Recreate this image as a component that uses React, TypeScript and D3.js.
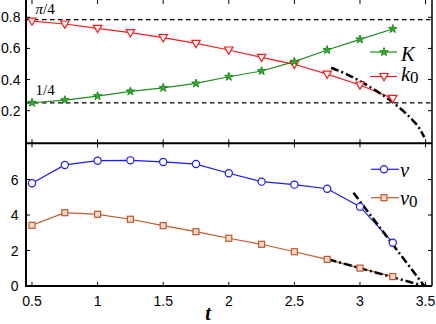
import React from "react";
import * as d3 from "d3";

const tVals = [0.5, 0.75, 1, 1.25, 1.5, 1.75, 2, 2.25, 2.5, 2.75, 3, 3.25];
const KVals = [0.251, 0.268, 0.294, 0.324, 0.347, 0.375, 0.418, 0.455, 0.515, 0.59, 0.658, 0.725];
const k0Vals = [0.776, 0.757, 0.729, 0.701, 0.669, 0.632, 0.59, 0.543, 0.498, 0.435, 0.365, 0.279];
const vVals = [5.79, 6.82, 7.06, 7.08, 6.99, 6.87, 6.35, 5.88, 5.71, 5.48, 4.47, 2.44];
const v0Vals = [3.42, 4.13, 4.04, 3.76, 3.4, 3.06, 2.69, 2.35, 1.93, 1.5, 1.01, 0.53];

const kAsymT = [2.78, 2.9, 3.0, 3.1, 3.2, 3.3, 3.4, 3.45, 3.49];
const kAsymV = [0.476, 0.434, 0.39, 0.34, 0.285, 0.22, 0.14, 0.09, 0.03];
const vAsymT = [2.95, 3.49];
const vAsymV = [5.26, 0.0];
const v0AsymT = [2.76, 3.49];
const v0AsymV = [1.5, 0.0];

const xTicks = [0.5, 1, 1.5, 2, 2.5, 3, 3.5];
const xTickLabels = ["0.5", "1", "1.5", "2", "2.5", "3", "3.5"];
const topTicks = [0.2, 0.4, 0.6, 0.8];
const topTickLabels = ["0.2", "0.4", "0.6", "0.8"];
const botTicks = [0, 2, 4, 6];
const botTickLabels = ["0", "2", "4", "6"];
const refLines = [Math.PI / 4, 0.25];

const GREEN = "#1e8c1e";
const RED = "#ff1a1a";
const BLUE = "#1a1aff";
const BROWN = "#c0582a";

export default function App() {
  const L = 26, R = 432;
  const topY0 = 0, topY1 = 143.3, botY1 = 286;
  const x = d3.scaleLinear().domain([0.4543, 3.549]).range([L, R]);
  const yT = d3.scaleLinear().domain([0, 0.8]).range([141.8, 17.3]);
  const yB = d3.scaleLinear().domain([0, 8]).range([botY1, 144]);

  const lineT = d3.line<number>().x((_, i) => x(tVals[i])).y((d) => yT(d));
  const lineB = d3.line<number>().x((_, i) => x(tVals[i])).y((d) => yB(d));
  const asymTop = d3
    .line<number>()
    .x((_, i) => x(kAsymT[i]))
    .y((d) => yT(d))
    .curve(d3.curveMonotoneX);
  const mkLine = (ts: number[], vs: number[]) =>
    d3.line<number>().x((_, i) => x(ts[i])).y((d) => yB(d))(vs) || "";

  const star = d3.symbol().type(d3.symbolStar).size(22)() || "";
  const tri = "M-4.2,-3 L4.2,-3 L0,4.3 Z";
  const dashDot = "8,3,2,3";
  const tickLen = 4;
  const sans = "'Liberation Sans', Arial, sans-serif";
  const serif = "'Liberation Serif', 'Times New Roman', serif";

  const Star = ({ cx, cy }: { cx: number; cy: number }) => (
    <path d={star} transform={`translate(${cx},${cy})`} fill="#2fae2f" stroke={GREEN} strokeWidth={1} />
  );
  const Tri = ({ cx, cy }: { cx: number; cy: number }) => (
    <path d={tri} transform={`translate(${cx},${cy})`} fill="white" stroke={RED} strokeWidth={1.2} />
  );
  const Circ = ({ cx, cy }: { cx: number; cy: number }) => (
    <circle cx={cx} cy={cy} r={3.6} fill="white" stroke={BLUE} strokeWidth={1.2} />
  );
  const Sq = ({ cx, cy }: { cx: number; cy: number }) => (
    <rect x={cx - 3} y={cy - 3} width={6} height={6} fill="#f3d9c9" stroke={BROWN} strokeWidth={1.2} />
  );

  return (
    <svg
      width={436}
      height={324}
      style={{ position: "absolute", left: 0, top: 0, background: "white" }}
    >
      {/* top panel reference lines */}
      {refLines.map((r, i) => (
        <line key={i} x1={L} x2={R} y1={yT(r)} y2={yT(r)} stroke="black" strokeWidth={1.2} strokeDasharray="4.5,3.5" />
      ))}
      <text x={35.5} y={13.5} fontFamily={serif} fontSize={15}>
        <tspan fontStyle="italic">π</tspan>/4
      </text>
      <text x={35.5} y={95} fontFamily={serif} fontSize={15}>1/4</text>

      {/* top series */}
      <path d={lineT(k0Vals) || ""} fill="none" stroke={RED} strokeWidth={1.2} />
      <path d={lineT(KVals) || ""} fill="none" stroke={GREEN} strokeWidth={1.2} />
      <path d={asymTop(kAsymV) || ""} fill="none" stroke="black" strokeWidth={2.5} strokeDasharray={dashDot} />
      {k0Vals.map((v, i) => <Tri key={i} cx={x(tVals[i])} cy={yT(v)} />)}
      {KVals.map((v, i) => <Star key={i} cx={x(tVals[i])} cy={yT(v)} />)}

      {/* bottom series */}
      <path d={lineB(vVals) || ""} fill="none" stroke={BLUE} strokeWidth={1.2} />
      <path d={lineB(v0Vals) || ""} fill="none" stroke={BROWN} strokeWidth={1.2} />
      <path d={mkLine(vAsymT, vAsymV)} fill="none" stroke="black" strokeWidth={2.5} strokeDasharray={dashDot} />
      <path d={mkLine(v0AsymT, v0AsymV)} fill="none" stroke="black" strokeWidth={2.5} strokeDasharray={dashDot} />
      {vVals.map((v, i) => <Circ key={i} cx={x(tVals[i])} cy={yB(v)} />)}
      {v0Vals.map((v, i) => <Sq key={i} cx={x(tVals[i])} cy={yB(v)} />)}

      {/* legends */}
      <line x1={370} x2={397} y1={52} y2={52} stroke={GREEN} strokeWidth={1.2} />
      <Star cx={384} cy={52} />
      <text x={401} y={61} fontFamily={serif} fontStyle="italic" fontSize={20.5}>K</text>
      <line x1={370} x2={397} y1={76.5} y2={76.5} stroke={RED} strokeWidth={1.2} />
      <Tri cx={384} cy={76.5} />
      <text x={401} y={81} fontFamily={serif} fontStyle="italic" fontSize={20.5}>
        k<tspan fontStyle="normal" fontSize={17} dy={2}>0</tspan>
      </text>

      <line x1={371} x2={399} y1={169.3} y2={169.3} stroke={BLUE} strokeWidth={1.2} />
      <Circ cx={384} cy={169.3} />
      <text x={400} y={176.5} fontFamily={serif} fontStyle="italic" fontSize={20.5}>v</text>
      <line x1={371} x2={399} y1={197.7} y2={197.7} stroke={BROWN} strokeWidth={1.2} />
      <Sq cx={384} cy={197.7} />
      <text x={400} y={204.5} fontFamily={serif} fontStyle="italic" fontSize={20.5}>
        v<tspan fontStyle="normal" fontSize={17} dy={2}>0</tspan>
      </text>

      {/* borders */}
      <g stroke="black" strokeWidth={1.5} fill="none">
        <line x1={L} x2={L} y1={topY0} y2={botY1} strokeWidth={2} />
        <line x1={R} x2={R} y1={topY0} y2={botY1} />
        <line x1={L} x2={R} y1={topY1} y2={topY1} strokeWidth={2} />
        <line x1={L - 1} x2={R} y1={botY1} y2={botY1} strokeWidth={2} />
      </g>

      {/* ticks */}
      <g stroke="black" strokeWidth={1}>
        {xTicks.map((t, i) => (
          <g key={i}>
            <line x1={x(t)} x2={x(t)} y1={topY0} y2={topY0 + tickLen} />
            <line x1={x(t)} x2={x(t)} y1={topY1} y2={topY1 - tickLen} />
            <line x1={x(t)} x2={x(t)} y1={topY1} y2={topY1 + tickLen} />
            <line x1={x(t)} x2={x(t)} y1={botY1} y2={botY1 - tickLen} />
          </g>
        ))}
        {topTicks.map((v, i) => (
          <g key={i}>
            <line x1={L} x2={L + tickLen} y1={yT(v)} y2={yT(v)} />
            <line x1={R} x2={R - tickLen} y1={yT(v)} y2={yT(v)} />
          </g>
        ))}
        {botTicks.map((v, i) => (
          <g key={i}>
            <line x1={L} x2={L + tickLen} y1={yB(v)} y2={yB(v)} />
            <line x1={R} x2={R - tickLen} y1={yB(v)} y2={yB(v)} />
          </g>
        ))}
      </g>

      {/* tick labels */}
      <g fontFamily={sans} fontSize={14} fill="black">
        {xTicks.map((t, i) => (
          <text key={i} x={x(t)} y={305.5} textAnchor="middle">{xTickLabels[i]}</text>
        ))}
        {topTicks.map((v, i) => (
          <text key={i} x={20.5} y={yT(v) + 5} textAnchor="end">{topTickLabels[i]}</text>
        ))}
        {botTicks.map((v, i) => (
          <text key={i} x={18.5} y={yB(v) + 5} textAnchor="end">{botTickLabels[i]}</text>
        ))}
      </g>
      <text x={208} y={320} fontFamily={serif} fontStyle="italic" fontWeight="bold" fontSize={20} textAnchor="middle">t</text>
    </svg>
  );
}
